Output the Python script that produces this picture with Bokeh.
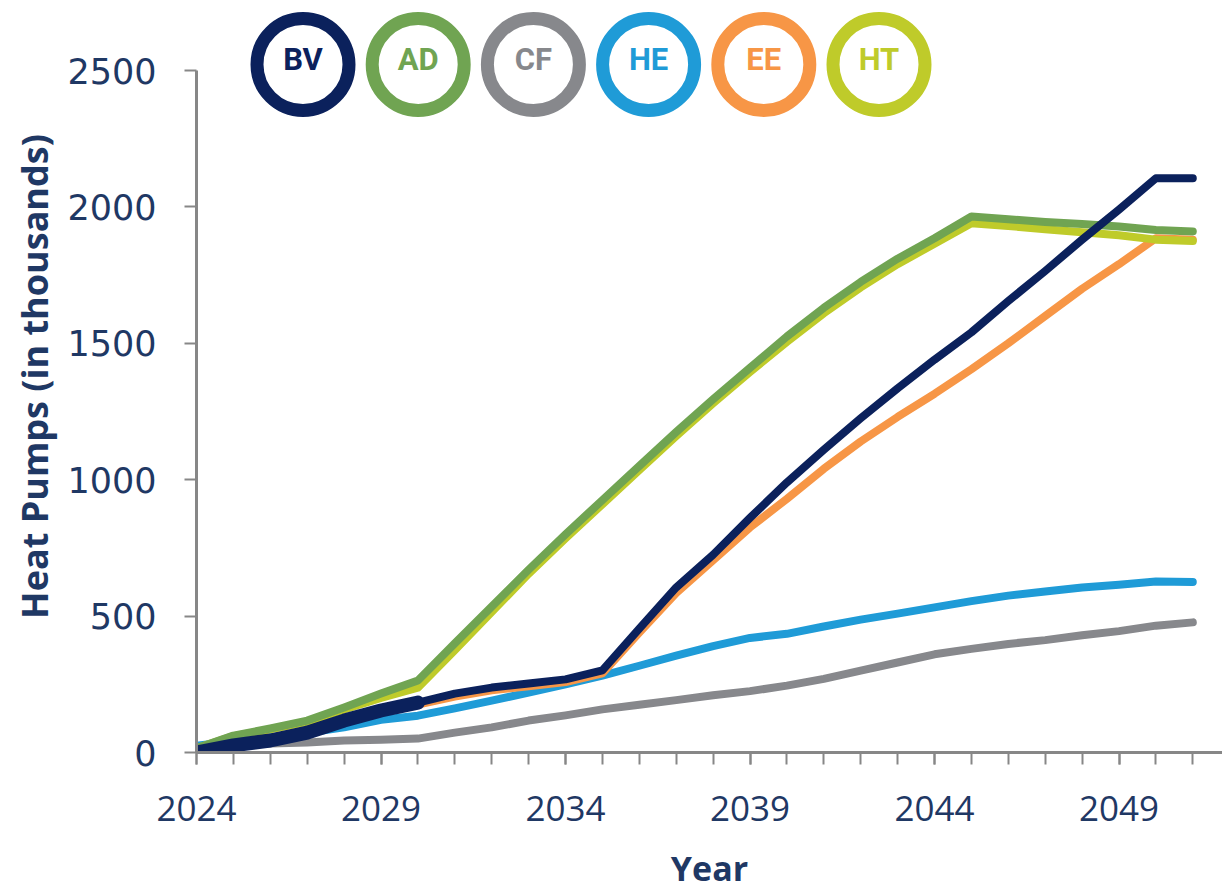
import math
from bokeh.plotting import figure
from bokeh.models import Range1d, FixedTicker, ColumnDataSource
from bokeh.core.properties import value
from bokeh.embed import file_html
from bokeh.resources import INLINE

# ---------------- data ----------------
years = list(range(2024, 2052))
bv = [0, 26, 44, 73, 117, 154, 183, 216, 238, 253, 268, 301, 454, 605, 725, 860, 990, 1110,
      1225, 1335, 1440, 1540, 1655, 1765, 1880, 1990, 2105, 2105]
ad = [15, 62, 88, 117, 165, 216, 264, 400, 535, 670, 800, 925, 1050, 1175, 1295, 1410, 1525,
      1630, 1725, 1810, 1885, 1965, 1955, 1945, 1937, 1928, 1915, 1910]
cf = [15, 25, 33, 37, 44, 47, 51, 73, 92, 117, 136, 158, 175, 192, 210, 225, 245, 270, 300,
      330, 360, 380, 398, 412, 430, 445, 465, 477]
he = [25, 40, 55, 72, 92, 120, 135, 162, 190, 220, 250, 282, 318, 355, 390, 420, 435, 462,
      487, 509, 532, 555, 575, 590, 605, 615, 627, 625]
ee = [0, 24, 42, 70, 112, 150, 176, 205, 228, 243, 258, 290, 440, 585, 705, 825, 930, 1040,
      1140, 1230, 1315, 1405, 1500, 1600, 1700, 1790, 1885, 1880]
ht = [15, 60, 85, 112, 158, 200, 238, 375, 515, 655, 785, 910, 1035, 1160, 1280, 1395, 1505,
      1610, 1705, 1790, 1865, 1940, 1930, 1918, 1907, 1896, 1880, 1875]
bv_hist_end = 2030  # the thicker early part of BV

scenarios = ["BV", "AD", "CF", "HE", "EE", "HT"]
colors = {"BV": "#0B215C", "AD": "#70A452", "CF": "#87888C",
          "HE": "#1F9BD7", "EE": "#F79646", "HT": "#BFCB2A"}
series = {"BV": bv, "AD": ad, "CF": cf, "HE": he, "EE": ee, "HT": ht}

x_labels = [2024, 2029, 2034, 2039, 2044, 2049]
y_ticks = [0, 500, 1000, 1500, 2000, 2500]

# ---------------- layout ----------------
W, H = 1222, 894
BL = 196
FRAME_BOTTOM = 752
BB = H - FRAME_BOTTOM
px_per_year = 36.9
px_per_unit = 682 / 2500.0
frame_w = W - BL
frame_h = H - BB
x_end = 2024 + frame_w / px_per_year
y_end = frame_h / px_per_unit

TXT = "#1F3864"
AX = "#878787"

p = figure(width=W, height=H, output_backend="svg", toolbar_location=None,
           x_range=Range1d(2024, x_end), y_range=Range1d(0, y_end),
           min_border_left=BL, min_border_right=0, min_border_top=0,
           min_border_bottom=BB, background_fill_color="white",
           border_fill_color="white")
p.outline_line_color = None
p.grid.visible = False

# x axis
xa = p.xaxis[0]
xa.ticker = FixedTicker(ticks=x_labels, minor_ticks=years)
xa.axis_line_color = AX
xa.axis_line_width = 3
xa.major_tick_line_color = AX
xa.minor_tick_line_color = AX
xa.major_tick_line_width = 2
xa.minor_tick_line_width = 2
xa.major_tick_in = 0
xa.major_tick_out = 12
xa.minor_tick_in = 0
xa.minor_tick_out = 12
xa.major_label_text_font = "Open Sans"
xa.major_label_text_font_size = "35px"
xa.major_label_text_color = TXT
xa.major_label_standoff = 31
xa.axis_label = "Year"
xa.axis_label_text_font = "Open Sans"
xa.axis_label_text_font_style = "bold"
xa.axis_label_text_font_size = "34px"
xa.axis_label_text_color = TXT
xa.axis_label_standoff = 21

# y axis
ya = p.yaxis[0]
ya.ticker = FixedTicker(ticks=y_ticks)
ya.bounds = (0, 2500)
ya.axis_line_color = AX
ya.axis_line_width = 3
ya.major_tick_line_color = AX
ya.major_tick_line_width = 2
ya.major_tick_in = 0
ya.major_tick_out = 12
ya.minor_tick_line_color = None
ya.major_label_text_font = "DejaVu Sans"
ya.major_label_text_font_size = "35px"
ya.major_label_text_color = TXT
ya.major_label_standoff = 28
ya.axis_label = "Heat Pumps (in thousands)"
ya.axis_label_text_font = "Open Sans"
ya.axis_label_text_font_style = "bold"
ya.axis_label_text_font_size = "36px"
ya.axis_label_text_color = TXT
ya.axis_label_standoff = 5

# lines (drawing order so that overlaps look like the reference)
for name in ["CF", "HE", "EE", "HT", "AD", "BV"]:
    p.line(years, series[name], line_color=colors[name], line_width=8,
           line_cap="round", line_join="round")

n_hist = years.index(bv_hist_end) + 1
p.line(years[:n_hist], bv[:n_hist], line_color=colors["BV"], line_width=14,
       line_cap="round", line_join="round")

# legend rings at the top
leg_px = [302.5 + 115.2 * i for i in range(len(scenarios))]
leg_x = [2024 + (px - BL) / px_per_year for px in leg_px]
ring_y = (FRAME_BOTTOM - 64) / px_per_unit
txt_y = (FRAME_BOTTOM - 59) / px_per_unit
src = ColumnDataSource(dict(x=leg_x, y=[ring_y] * len(scenarios), ty=[txt_y] * len(scenarios),
                            t=scenarios, c=[colors[s] for s in scenarios]))
p.scatter("x", "y", source=src, marker="circle", size=92, line_width=13,
          line_color="c", fill_color="white")
p.text("x", "ty", text="t", source=src, text_color="c", text_font=value("Roboto"),
       text_font_style="bold", text_font_size="31px", text_align="center",
       text_baseline="middle")

open("out.html", "w").write(file_html(p, INLINE))
